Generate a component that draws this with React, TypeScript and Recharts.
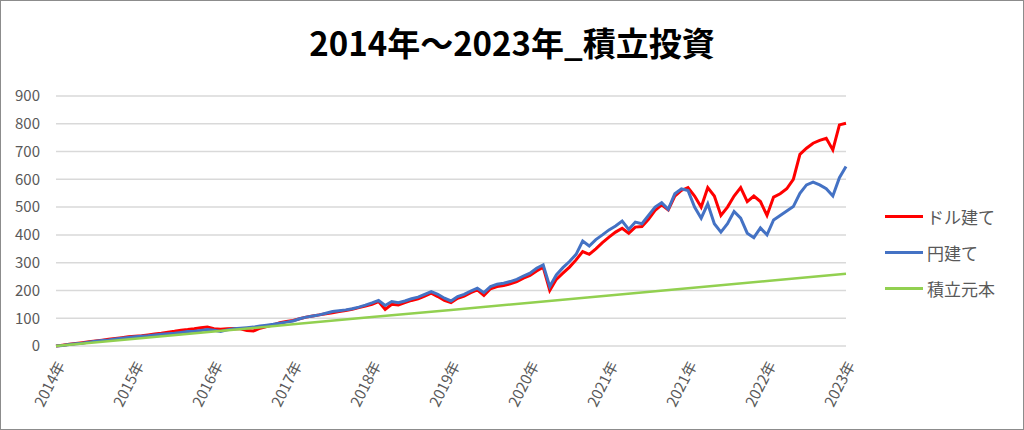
import { LineChart, Line, XAxis, YAxis, CartesianGrid } from "recharts"

// x-axis labels, one every 12 points (the source repeats 2021年)
const yearLabels = [
  "2014年", "2015年", "2016年", "2017年", "2018年", "2019年",
  "2020年", "2021年", "2021年", "2022年", "2023年",
]

// ドル建て (monthly)
const usdValues = [
  0, 3, 6, 9, 12, 15, 18, 21, 24, 27, 30, 33,
  35, 37, 40, 43, 46, 50, 53, 57, 59, 62, 66, 68,
  62, 60, 62, 63, 62, 56, 54, 64, 70, 76, 84, 88,
  92, 98, 104, 108, 112, 116, 120, 124, 128, 132, 138, 144,
  150, 160, 132, 150, 148, 156, 164, 170, 180, 190, 178, 164,
  156, 172, 180, 192, 202, 182, 206, 214, 218, 224, 232, 244,
  254, 270, 284, 200, 240, 262, 284, 310, 340, 330, 350, 372,
  392, 410, 424, 406, 428, 430, 456, 488, 508, 490, 540, 560,
  570, 540, 500, 570, 540, 470, 500, 540, 570, 520, 540, 520,
  470, 536, 548, 566, 600, 690, 712, 730, 740, 748, 706, 796,
  802,
]

// 円建て
const jpyValues = [
  0, 2, 5, 8, 10, 14, 17, 20, 22, 25, 28, 31,
  33, 35, 37, 40, 42, 44, 46, 49, 52, 53, 56, 59,
  57, 52, 58, 62, 64, 66, 68, 72, 75, 78, 82, 86,
  90, 98, 104, 108, 112, 118, 124, 127, 130, 134, 140, 147,
  155, 164, 146, 160, 156, 162, 170, 176, 186, 196, 186, 172,
  162, 178, 186, 198, 208, 192, 214, 222, 226, 232, 240, 252,
  262, 280, 292, 214, 256, 282, 304, 330, 378, 360, 383, 400,
  418, 432, 450, 420, 446, 440, 470, 500, 516, 492, 548, 566,
  560, 500, 460, 512, 440, 410, 440, 484, 460, 406, 390, 425,
  400, 454, 470, 486, 502, 550, 580, 590, 580, 566, 540, 606,
  646,
]

// 積立元本, one value per year label
const principalValues = [0, 26, 52, 78, 104, 130, 156, 182, 208, 234, 260]

const yTicks = [0, 100, 200, 300, 400, 500, 600, 700, 800, 900]

const series = [
  { key: "usd", name: "ドル建て", color: "#FF0000", width: 3 },
  { key: "jpy", name: "円建て", color: "#4472C4", width: 3 },
  { key: "principal", name: "積立元本", color: "#92D050", width: 2.5 },
]

const FONT = "'Noto Sans CJK JP', 'Noto Sans', sans-serif"

const data = usdValues.map((v, i) => ({
  i,
  usd: v,
  jpy: jpyValues[i],
  principal: i % 12 === 0 ? principalValues[i / 12] : null,
}))

// drawn outside the chart so it doesn't eat into the plot area
function ChartLegend() {
  return (
    <div style={{
      position: "absolute", left: 884, top: 197,
      fontFamily: FONT, fontSize: 17, color: "#595959",
    }}>
      {series.map((s) => (
        <div key={s.key} style={{ display: "flex", alignItems: "center", height: 36 }}>
          <span style={{ display: "inline-block", width: 38, height: 3, background: s.color, marginRight: 4 }} />
          <span>{s.name}</span>
        </div>
      ))}
    </div>
  )
}

export default function App() {
  return (
    <div style={{
      position: "fixed", left: 0, top: 0, width: 1024, height: 430,
      boxSizing: "border-box", border: "1px solid #8c8c8c", background: "white",
    }}>
      <div style={{
        position: "absolute", left: 0, right: 0, top: 21, textAlign: "center",
        fontFamily: FONT, fontWeight: 700, fontSize: 33, color: "#000", lineHeight: "40px",
      }}>
        2014年～2023年_積立投資
      </div>
      <ChartLegend />
      <LineChart width={1022} height={428} data={data} margin={{ top: 95, right: 177, left: 10, bottom: 3 }}>
        <CartesianGrid vertical={false} stroke="#d9d9d9" strokeWidth={1.5} />
        <XAxis
          dataKey="i"
          type="number"
          domain={[0, 120]}
          ticks={[0, 12, 24, 36, 48, 60, 72, 84, 96, 108, 120]}
          tickFormatter={(v: number) => yearLabels[Math.round(v / 12)]}
          interval={0}
          height={80}
          axisLine={false}
          tickLine={false}
          tickMargin={8}
          angle={-63}
          textAnchor="end"
          tick={{ fontFamily: FONT, fontSize: 15, fill: "#595959" }}
        />
        <YAxis
          domain={[0, 900]}
          ticks={yTicks}
          interval={0}
          width={45}
          axisLine={false}
          tickLine={false}
          tickMargin={10}
          tick={{ fontFamily: FONT, fontSize: 15, fill: "#595959" }}
        />
        {series.map((s) => (
          <Line
            key={s.key}
            type="linear"
            dataKey={s.key}
            name={s.name}
            stroke={s.color}
            strokeWidth={s.width}
            dot={false}
            connectNulls
            isAnimationActive={false}
          />
        ))}
      </LineChart>
    </div>
  )
}
